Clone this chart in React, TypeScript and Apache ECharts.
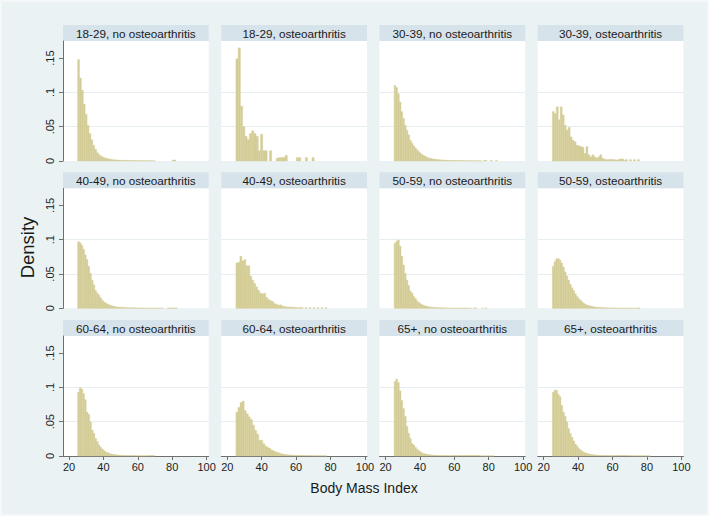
import React, { useEffect, useRef } from "react";
import * as echarts from "echarts";

// ---------- data ----------
const PANEL_TITLES = [
  "18-29, no osteoarthritis", "18-29, osteoarthritis", "30-39, no osteoarthritis", "30-39, osteoarthritis",
  "40-49, no osteoarthritis", "40-49, osteoarthritis", "50-59, no osteoarthritis", "50-59, osteoarthritis",
  "60-64, no osteoarthritis", "60-64, osteoarthritis", "65+, no osteoarthritis", "65+, osteoarthritis",
];
const X_TICKS = [20, 40, 60, 80, 100];
const Y_TICKS = [0, 0.05, 0.1, 0.15];
const Y_TICK_LABELS = ["0", ".05", ".1", ".15"];
const X_TITLE = "Body Mass Index";
const Y_TITLE = "Density";
const BIN_START = 25;
const BIN_WIDTHS = [1.1, 1.3, 1.0, 1.15, 1.0, 1.15, 1.0, 1.0, 1.0, 1.2, 1.0, 1.0];

const d1829No = [
  0.148, 0.121, 0.103, 0.083, 0.068, 0.052, 0.040, 0.031, 0.023, 0.017,
  0.012, 0.009, 0.007, 0.0055, 0.0045, 0.0035, 0.003, 0.0025, 0.002, 0.0018,
  0.0015, 0.0013, 0.0012, 0.001, 0.001, 0.0009, 0.0008, 0.0008, 0.0007, 0.0007,
  0.0006, 0.0006, 0.0005, 0.0005, 0.0005, 0.0004, 0.0004, 0.0004, 0.0003, 0.0003,
  0.0003, 0, 0, 0, 0, 0, 0, 0, 0, 0, 0.0015, 0.0015,
];
const d1829Oa = [
  0.149, 0.165, 0.080, 0.050, 0.036, 0.031, 0.040, 0.044, 0.040, 0.036,
  0.015, 0.039, 0.015, 0.015, 0, 0.015, 0, 0, 0.004, 0.005,
  0.005, 0.005, 0.008, 0, 0, 0, 0, 0.005, 0.005, 0,
  0, 0.005, 0, 0, 0.005,
];
const d3039No = [
  0.110, 0.107, 0.098, 0.086, 0.072, 0.062, 0.052, 0.045, 0.038, 0.030,
  0.026, 0.022, 0.019, 0.016, 0.0135, 0.011, 0.009, 0.0077, 0.0063, 0.005,
  0.004, 0.0035, 0.003, 0.0027, 0.0024, 0.002, 0.0018, 0.0016, 0.0014, 0.0012,
  0.0011, 0.001, 0.0009, 0.0008, 0.0008, 0.0007, 0.0007, 0.0006, 0.0006, 0.0005,
  0.0005, 0.0005, 0.0004, 0.0004, 0.0004, 0.0003, 0.0003, 0.0003, 0.0003, 0.0003,
  0.0002, 0, 0.001, 0.001, 0, 0, 0.001, 0, 0, 0.001,
];
const d3039Oa = [
  0.072, 0.069, 0.079, 0.060, 0.079, 0.067, 0.052, 0.045, 0.049, 0.035,
  0.030, 0.028, 0.023, 0.022, 0.021, 0.020, 0.011, 0.021, 0.009, 0.006,
  0.009, 0.006, 0.004, 0.006, 0.009, 0.004, 0.0025, 0.002, 0.002, 0.0025,
  0.002, 0.002, 0.0015, 0.002, 0.003, 0.003, 0.001, 0.002, 0, 0.002,
  0, 0.002, 0, 0.002,
];
const d4049No = [
  0.097, 0.0955, 0.092, 0.086, 0.078, 0.071, 0.061, 0.051, 0.041, 0.034,
  0.026, 0.022, 0.019, 0.015, 0.0114, 0.009, 0.0074, 0.006, 0.005, 0.004,
  0.0032, 0.0026, 0.0021, 0.0018, 0.0015, 0.0013, 0.0011, 0.001, 0.0009, 0.0008,
  0.0007, 0.0007, 0.0006, 0.0006, 0.0005, 0.0005, 0.0005, 0.0004, 0.0004, 0.0004,
  0.0004, 0.0003, 0.0003, 0.0003, 0.0003, 0.0003, 0.0003, 0.0002, 0.0002, 0.0002,
  0, 0, 0.0005, 0.0005, 0.0005, 0.0005, 0.0005, 0.0005,
];
const d4049Oa = [
  0.066, 0.067, 0.076, 0.069, 0.071, 0.062, 0.062, 0.047, 0.041, 0.036,
  0.031, 0.026, 0.022, 0.021, 0.022, 0.016, 0.013, 0.011, 0.010, 0.007,
  0.006, 0.0045, 0.005, 0.0035, 0.0025, 0.002, 0.002, 0.0015, 0.0015, 0.0015,
  0.001, 0.001, 0.001, 0.001, 0, 0.001, 0, 0.001, 0, 0.001,
  0, 0.001, 0, 0.001, 0, 0.001,
];
const d5059No = [
  0.0946, 0.098, 0.0995, 0.0906, 0.076, 0.063, 0.051, 0.041, 0.033, 0.025,
  0.022, 0.017, 0.014, 0.0104, 0.0084, 0.0064, 0.005, 0.004, 0.0032, 0.0025,
  0.002, 0.0017, 0.0014, 0.0012, 0.001, 0.0009, 0.0008, 0.0007, 0.0006, 0.0006,
  0.0005, 0.0005, 0.0004, 0.0004, 0.0004, 0.0003, 0.0003, 0.0003, 0.0003, 0.0003,
  0.0002, 0.0002, 0.0002, 0.0002, 0.0002, 0, 0.0004, 0.0004, 0, 0,
  0, 0.0004, 0, 0.0004,
];
const d5059Oa = [
  0.061, 0.068, 0.072, 0.0728, 0.070, 0.066, 0.060, 0.053, 0.047, 0.041,
  0.035, 0.030, 0.0255, 0.021, 0.017, 0.014, 0.0114, 0.009, 0.007, 0.0054,
  0.0045, 0.0037, 0.003, 0.0025, 0.002, 0.0017, 0.0014, 0.0012, 0.001, 0.0009,
  0.0008, 0.0007, 0.0006, 0.0006, 0.0005, 0.0005, 0.0005, 0.0004, 0.0004, 0.0004,
  0.0003, 0.0003, 0.0003, 0.0003, 0.0003, 0.0002, 0.0002, 0.0002, 0.0002, 0.0002,
  0.0006,
];
const d6064No = [
  0.093, 0.0995, 0.0976, 0.091, 0.082, 0.064, 0.0606, 0.0495, 0.038, 0.033,
  0.0255, 0.021, 0.016, 0.0125, 0.010, 0.0077, 0.0058, 0.0048, 0.0038, 0.0029,
  0.0024, 0.002, 0.0017, 0.0014, 0.0012, 0.001, 0.0009, 0.0008, 0.0007, 0.0006,
  0.0006, 0.0005, 0.0005, 0.0005, 0.0004, 0.0004, 0.0004, 0.0004, 0.0003, 0.0003,
  0.0006, 0.0006, 0.0006, 0.0006, 0.0005,
];
const d6064Oa = [
  0.064, 0.071, 0.078, 0.080, 0.066, 0.0615, 0.057, 0.053, 0.045, 0.0375,
  0.032, 0.023, 0.023, 0.018, 0.0144, 0.0125, 0.011, 0.0087, 0.0072, 0.0058,
  0.0048, 0.0038, 0.003, 0.0025, 0.002, 0.0017, 0.0014, 0.0012, 0.001, 0.001,
  0.0009, 0.0008, 0.0008, 0.0007, 0.0007, 0.0006, 0.0006, 0.0005, 0.0005, 0.0005,
  0.0004, 0.0004, 0.0004, 0.0003,
];
const d65No = [
  0.1087, 0.112, 0.107, 0.095, 0.081, 0.069, 0.058, 0.043, 0.033, 0.0255,
  0.018, 0.016, 0.0125, 0.0096, 0.0077, 0.0058, 0.0043, 0.0034, 0.0028, 0.0023,
  0.0019, 0.0016, 0.0013, 0.0011, 0.001, 0.0009, 0.0008, 0.0007, 0.0006, 0.0006,
  0.0005, 0.0005, 0.0005, 0.0008, 0.0008, 0.0008, 0.0008, 0.0008, 0.0008, 0.0008,
  0.0008, 0.0008, 0.0008, 0.0008, 0.0008, 0.0008, 0.0008, 0.0008, 0.0008, 0.0008,
  0.0002, 0.0002, 0.0002, 0.0002, 0.0002, 0.0002, 0.0002, 0.0002,
];
const d65Oa = [
  0.093, 0.096, 0.096, 0.090, 0.0865, 0.0736, 0.064, 0.058, 0.0495, 0.040,
  0.033, 0.027, 0.022, 0.0173, 0.0144, 0.011, 0.0087, 0.0067, 0.0053, 0.0043,
  0.0035, 0.0028, 0.0023, 0.0019, 0.0016, 0.0013, 0.0011, 0.001, 0.0009, 0.0008,
  0.0007, 0.0007, 0.0006, 0.0006, 0.0005, 0.0005, 0.0008, 0.0008, 0.0008, 0.0008,
  0.0008, 0.0008, 0.0008, 0.0008, 0.0008, 0.0004, 0.0004, 0.0004, 0.0004, 0.0003,
  0.0003, 0.0003, 0.0003, 0.0003, 0.0003, 0.0003, 0.0002,
];
const PANEL_DENSITIES = [
  d1829No, d1829Oa, d3039No, d3039Oa, d4049No, d4049Oa,
  d5059No, d5059Oa, d6064No, d6064Oa, d65No, d65Oa,
];

// ---------- layout ----------
const FONT = "'Liberation Sans', Arial, Helvetica, sans-serif";
const BAR_COLOR = "#d4cd97";
const GRID_LEFTS = [63, 221.3, 379.5, 537.7];
const GRID_TOPS = [41, 188.3, 336];
const GRID_W = 145.7;
const GRID_H = 120;
const STRIP_H = 16;
const X_MIN = 16.5;
const X_MAX = 101.2;
const Y_MAX = 0.175;
const AXIS_COLOR = "#6f6f6f";

function buildOption() {
  const grids: any[] = [];
  const xAxes: any[] = [];
  const yAxes: any[] = [];
  const series: any[] = [];
  const graphics: any[] = [];

  PANEL_TITLES.forEach((title, i) => {
    const row = Math.floor(i / 4);
    const col = i % 4;
    const left = GRID_LEFTS[col];
    const top = GRID_TOPS[row];
    const isBottom = row === 2;
    const isLeft = col === 0;

    grids.push({
      left, top, width: GRID_W, height: GRID_H,
      show: true, backgroundColor: "#ffffff", borderWidth: 0,
    });

    xAxes.push({
      type: "value", gridIndex: i, min: X_MIN, max: X_MAX,
      show: true,
      axisLine: { show: isBottom, onZero: false, lineStyle: { color: AXIS_COLOR, width: 1 } },
      axisTick: { show: isBottom, length: 4, customValues: X_TICKS, lineStyle: { color: AXIS_COLOR } },
      axisLabel: {
        show: isBottom, customValues: X_TICKS, margin: 5,
        fontSize: 11, color: "#222", fontFamily: FONT,
      },
      splitLine: { show: false },
    });

    yAxes.push({
      type: "value", gridIndex: i, min: 0, max: Y_MAX, interval: 0.05,
      axisLine: { show: isLeft, lineStyle: { color: AXIS_COLOR, width: 1 } },
      axisTick: { show: isLeft, length: 4, customValues: Y_TICKS, lineStyle: { color: AXIS_COLOR } },
      axisLabel: {
        show: isLeft, customValues: Y_TICKS, rotate: 90, margin: 8,
        fontSize: 11, color: "#222", fontFamily: FONT,
        formatter: (v: number) => {
          const k = Y_TICKS.findIndex((t) => Math.abs(t - v) < 1e-9);
          return k >= 0 ? Y_TICK_LABELS[k] : "";
        },
      },
      splitLine: { show: true, showMinLine: false, showMaxLine: false, lineStyle: { color: "#e6eef1", width: 1 } },
    });

    const w = BIN_WIDTHS[i];
    const data = PANEL_DENSITIES[i].map((v, k) => [BIN_START + k * w, BIN_START + (k + 1) * w, v]);

    series.push({
      type: "custom", xAxisIndex: i, yAxisIndex: i,
      data, encode: { x: [0, 1], y: 2 },
      renderItem: (params: any, api: any) => {
        const x0 = api.value(0);
        const x1 = api.value(1);
        const y = api.value(2);
        if (!(y > 0)) return null;
        const p0 = api.coord([x0, y]);
        const p1 = api.coord([x1, 0]);
        return {
          type: "rect",
          shape: { x: p0[0], y: p0[1], width: p1[0] - p0[0], height: p1[1] - p0[1] },
          style: { fill: BAR_COLOR, stroke: BAR_COLOR, lineWidth: 0.4 },
        };
      },
    });

    graphics.push({
      type: "rect",
      shape: { x: left, y: top - STRIP_H, width: GRID_W, height: STRIP_H },
      style: { fill: "#d7e3ea" },
    });
    graphics.push({
      type: "text",
      x: left + GRID_W / 2, y: top - STRIP_H / 2,
      style: {
        text: title, fill: "#1a1a1a", font: `11.7px ${FONT}`,
        textAlign: "center", textVerticalAlign: "middle",
      },
    });
  });

  graphics.push({
    type: "text", x: 27, y: 247.5, rotation: Math.PI / 2,
    style: { text: Y_TITLE, fill: "#1a1a1a", font: `18.5px ${FONT}`, textAlign: "center", textVerticalAlign: "middle" },
  });
  graphics.push({
    type: "text", x: 364, y: 488,
    style: { text: X_TITLE, fill: "#1a1a1a", font: `14px ${FONT}`, textAlign: "center", textVerticalAlign: "middle" },
  });

  return {
    animation: false,
    backgroundColor: "transparent",
    grid: grids,
    xAxis: xAxes,
    yAxis: yAxes,
    series,
    graphic: graphics,
  };
}

export default function App() {
  const ref = useRef<HTMLDivElement>(null);
  useEffect(() => {
    if (!ref.current) return;
    const chart = echarts.init(ref.current, null, { renderer: "svg" });
    chart.setOption(buildOption() as any);
    return () => chart.dispose();
  }, []);
  return (
    <div
      style={{
        position: "absolute", left: 0, top: 0, width: 709, height: 516,
        background: "#eaf2f3", boxShadow: "inset 0 0 0 2px #f5f8f9",
      }}
    >
      <div ref={ref} style={{ width: 709, height: 516 }} />
    </div>
  );
}
